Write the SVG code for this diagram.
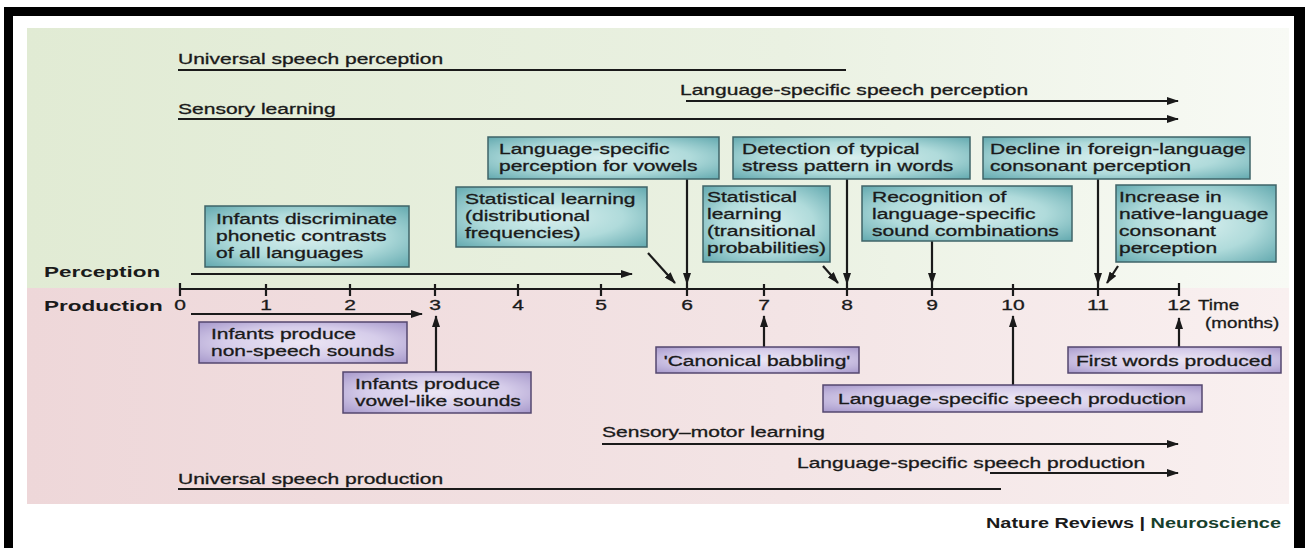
<svg xmlns="http://www.w3.org/2000/svg" width="1308" height="548" viewBox="0 0 1308 548">
<defs>
<linearGradient id="gGreen" x1="0" y1="0" x2="1" y2="0">
<stop offset="0" stop-color="#e1ebd4"/><stop offset="0.6" stop-color="#eaf1e2"/><stop offset="1" stop-color="#f8faf5"/>
</linearGradient>
<linearGradient id="gPink" x1="0" y1="0" x2="1" y2="0">
<stop offset="0" stop-color="#eed7d9"/><stop offset="0.6" stop-color="#f3e4e5"/><stop offset="1" stop-color="#f9f0f0"/>
</linearGradient>
<radialGradient id="gTeal" cx="0.5" cy="0.5" r="0.75">
<stop offset="0" stop-color="#d8efee"/><stop offset="0.5" stop-color="#b0dbdb"/><stop offset="1" stop-color="#58a2a9"/>
</radialGradient>
<radialGradient id="gPurple" cx="0.5" cy="0.5" r="0.75">
<stop offset="0" stop-color="#ece6f4"/><stop offset="0.5" stop-color="#d6cdea"/><stop offset="1" stop-color="#9f90c6"/>
</radialGradient>
<marker id="ah" markerUnits="userSpaceOnUse" markerWidth="12" markerHeight="8" refX="11" refY="4" orient="auto">
<path d="M0,0 L12,4 L0,8 z" fill="#1a1a1a"/>
</marker>
<style>
.t{font-family:"Liberation Sans",Arial,sans-serif;font-size:14.5px;fill:#1a1a1a;stroke:#1a1a1a;stroke-width:0.3}
.b{font-family:"Liberation Sans",Arial,sans-serif;font-size:15px;font-weight:bold;fill:#1a1a1a}
.pb{fill:url(#gTeal);stroke:#3f6468;stroke-width:1.5}
.qb{fill:url(#gPurple);stroke:#54476f;stroke-width:1.5}
.ln{stroke:#1a1a1a;stroke-width:2.2;fill:none}
.ar{stroke:#1a1a1a;stroke-width:2.2;fill:none;marker-end:url(#ah)}
</style>
</defs>
<rect x="0" y="0" width="1308" height="548" fill="#ffffff"/>
<g id="frame">
<rect x="4" y="7" width="1301" height="9" fill="#000"/>
<rect x="4" y="7" width="9" height="541" fill="#000"/>
<rect x="1294" y="7" width="11" height="541" fill="#000"/>
</g>
<g id="panel">
<rect x="27" y="28" width="1262" height="260" fill="url(#gGreen)"/>
<rect x="27" y="288" width="1262" height="216" fill="url(#gPink)"/>
</g>
<g id="connectors">
<line class="ln" x1="178" y1="70" x2="846" y2="70"/>
<line class="ar" x1="686" y1="101" x2="1178" y2="101"/>
<line class="ar" x1="178" y1="119" x2="1178" y2="119"/>
<line class="ar" x1="191" y1="274" x2="632" y2="274"/>
<line class="ln" x1="180" y1="289" x2="1180" y2="289"/>
<path class="ln" d="M180,283V296M266,284V296M350,284V296M435,284V296M518,284V296M601,284V296M687,284V296M764,284V296M847,284V296M932,284V296M1013,284V296M1098,284V296M1179,283V296"/>
<line class="ar" x1="687" y1="179" x2="687" y2="284"/>
<line class="ar" x1="847" y1="179" x2="847" y2="284"/>
<line class="ar" x1="932" y1="241" x2="932" y2="284"/>
<line class="ar" x1="1098" y1="179" x2="1098" y2="284"/>
<line class="ar" x1="648" y1="253" x2="675" y2="283"/>
<line class="ar" x1="823" y1="266" x2="838" y2="283"/>
<line class="ar" x1="1118" y1="266" x2="1107" y2="283"/>
<line class="ar" x1="191" y1="314" x2="422" y2="314"/>
<line class="ar" x1="436" y1="372" x2="436" y2="316"/>
<line class="ar" x1="764" y1="347" x2="764" y2="316"/>
<line class="ar" x1="1013" y1="385" x2="1013" y2="316"/>
<line class="ar" x1="1179" y1="347" x2="1179" y2="318"/>
<line class="ar" x1="602" y1="444" x2="1178" y2="444"/>
<line class="ar" x1="990" y1="473" x2="1178" y2="473"/>
<line class="ln" x1="178" y1="489" x2="1001" y2="489"/>
</g>
<g id="labels">
<text class="t" transform="translate(178,64) scale(1.45,1)">Universal speech perception</text>
<text class="t" transform="translate(680,95) scale(1.45,1)">Language-specific speech perception</text>
<text class="t" transform="translate(178,114) scale(1.45,1)">Sensory learning</text>
<text class="b" transform="translate(44,277) scale(1.5,1)">Perception</text>
<text class="b" transform="translate(44,311) scale(1.5,1)">Production</text>
<g class="t" text-anchor="middle">
<text transform="translate(180,310) scale(1.45,1)">0</text>
<text transform="translate(266,310) scale(1.45,1)">1</text>
<text transform="translate(350,310) scale(1.45,1)">2</text>
<text transform="translate(435,310) scale(1.45,1)">3</text>
<text transform="translate(518,310) scale(1.45,1)">4</text>
<text transform="translate(601,310) scale(1.45,1)">5</text>
<text transform="translate(687,310) scale(1.45,1)">6</text>
<text transform="translate(764,310) scale(1.45,1)">7</text>
<text transform="translate(847,310) scale(1.45,1)">8</text>
<text transform="translate(932,310) scale(1.45,1)">9</text>
<text transform="translate(1013,310) scale(1.45,1)">10</text>
<text transform="translate(1098,310) scale(1.45,1)">11</text>
<text transform="translate(1179,310) scale(1.45,1)">12</text>
</g>
<text class="t" transform="translate(1198,310) scale(1.3,1)">Time</text>
<text class="t" transform="translate(1205,328) scale(1.3,1)">(months)</text>
<text class="t" transform="translate(602,437) scale(1.45,1)">Sensory–motor learning</text>
<text class="t" transform="translate(797,468) scale(1.45,1)">Language-specific speech production</text>
<text class="t" transform="translate(178,484) scale(1.45,1)">Universal speech production</text>
<text transform="translate(986,528) scale(1.42,1)" style="font-family:'Liberation Sans',Arial,sans-serif;font-size:14px;font-weight:bold"><tspan fill="#1a1a1a">Nature Reviews | </tspan><tspan fill="#173f2c">Neuroscience</tspan></text>
</g>
<g id="p-vowels">
<rect class="pb" x="488" y="137" width="231" height="42"/>
<text class="t" transform="translate(499,154) scale(1.45,1)"><tspan x="0">Language-specific</tspan><tspan x="0" dy="17">perception for vowels</tspan></text>
</g>
<g id="p-stress">
<rect class="pb" x="733" y="137" width="237" height="42"/>
<text class="t" transform="translate(742,154) scale(1.45,1)"><tspan x="0">Detection of typical</tspan><tspan x="0" dy="17">stress pattern in words</tspan></text>
</g>
<g id="p-decline">
<rect class="pb" x="983" y="137" width="267" height="42"/>
<text class="t" transform="translate(990,154) scale(1.45,1)"><tspan x="0">Decline in foreign-language</tspan><tspan x="0" dy="17">consonant perception</tspan></text>
</g>
<g id="p-distributional">
<rect class="pb" x="456" y="187" width="191" height="60"/>
<text class="t" transform="translate(465,204) scale(1.45,1)"><tspan x="0">Statistical learning</tspan><tspan x="0" dy="17">(distributional</tspan><tspan x="0" dy="17">frequencies)</tspan></text>
</g>
<g id="p-transitional">
<rect class="pb" x="703" y="186" width="127" height="76"/>
<text class="t" transform="translate(707,202) scale(1.45,1)"><tspan x="0">Statistical</tspan><tspan x="0" dy="17">learning</tspan><tspan x="0" dy="17">(transitional</tspan><tspan x="0" dy="17">probabilities)</tspan></text>
</g>
<g id="p-recognition">
<rect class="pb" x="862" y="186" width="210" height="55"/>
<text class="t" transform="translate(872,202) scale(1.45,1)"><tspan x="0">Recognition of</tspan><tspan x="0" dy="17">language-specific</tspan><tspan x="0" dy="17">sound combinations</tspan></text>
</g>
<g id="p-increase">
<rect class="pb" x="1116" y="185" width="160" height="77"/>
<text class="t" transform="translate(1119,202) scale(1.45,1)"><tspan x="0">Increase in</tspan><tspan x="0" dy="17">native-language</tspan><tspan x="0" dy="17">consonant</tspan><tspan x="0" dy="17">perception</tspan></text>
</g>
<g id="p-discriminate">
<rect class="pb" x="205" y="206" width="204" height="61"/>
<text class="t" transform="translate(216,224) scale(1.45,1)"><tspan x="0">Infants discriminate</tspan><tspan x="0" dy="17">phonetic contrasts</tspan><tspan x="0" dy="17">of all languages</tspan></text>
</g>
<g id="q-nonspeech">
<rect class="qb" x="199" y="322" width="208" height="41"/>
<text class="t" transform="translate(211,339) scale(1.45,1)"><tspan x="0">Infants produce</tspan><tspan x="0" dy="17">non-speech sounds</tspan></text>
</g>
<g id="q-vowellike">
<rect class="qb" x="343" y="372" width="188" height="41"/>
<text class="t" transform="translate(355,389) scale(1.45,1)"><tspan x="0">Infants produce</tspan><tspan x="0" dy="17">vowel-like sounds</tspan></text>
</g>
<g id="q-canonical">
<rect class="qb" x="656" y="347" width="203" height="26"/>
<text class="t" text-anchor="middle" transform="translate(757,366) scale(1.45,1)">'Canonical babbling'</text>
</g>
<g id="q-langprod">
<rect class="qb" x="823" y="385" width="379" height="27"/>
<text class="t" text-anchor="middle" transform="translate(1012,404) scale(1.45,1)">Language-specific speech production</text>
</g>
<g id="q-firstwords">
<rect class="qb" x="1068" y="347" width="213" height="26"/>
<text class="t" text-anchor="middle" transform="translate(1174,366) scale(1.45,1)">First words produced</text>
</g>
</svg>
